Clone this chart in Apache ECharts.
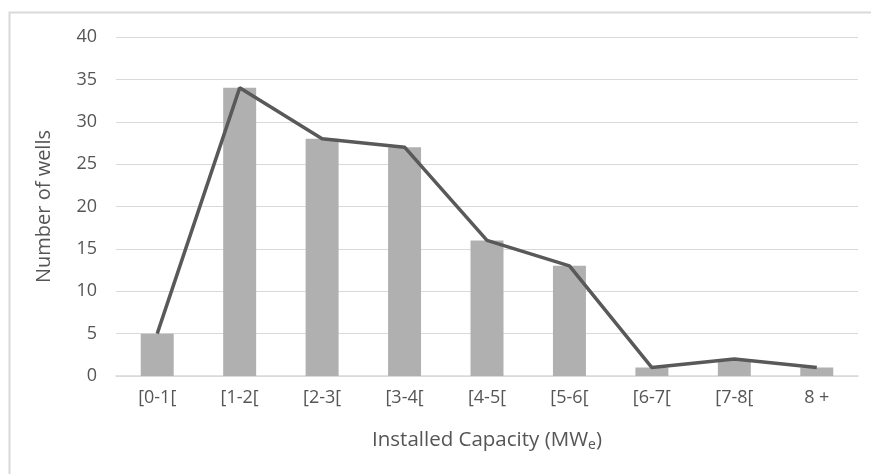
<!DOCTYPE html>
<html><head><meta charset="utf-8">
<script src="https://cdn.jsdelivr.net/npm/echarts@6/dist/echarts.min.js"></script>
<style>html,body{margin:0;padding:0;background:#fff}#c{width:871px;height:474px}</style>
</head><body><div id="c"></div>
<script>
const categories = ['[0-1[', '[1-2[', '[2-3[', '[3-4[', '[4-5[', '[5-6[', '[6-7[', '[7-8[', '8 +'];
const wells = [5, 34, 28, 27, 16, 13, 1, 2, 1];
const yTicks = { min: 0, max: 40, interval: 5 };
const font = '"Open Sans", "Liberation Sans", sans-serif';
const txt = '#555555';
const chart = echarts.init(document.getElementById('c'));
chart.setOption({
  animation: false,
  backgroundColor: '#fff',
  graphic: [{ type: 'rect', shape: { x: 9.5, y: 12.5, width: 900, height: 500 }, style: { fill: 'none', stroke: '#d9d9d9', lineWidth: 2 }, silent: true }],
  grid: { left: 116, right: 13, top: 37, bottom: 98 },
  xAxis: {
    type: 'category', data: categories,
    axisLine: { lineStyle: { color: '#d9d9d9', width: 1.5 } },
    axisTick: { show: false },
    axisLabel: { color: txt, fontSize: 18, fontFamily: font, margin: 13 },
    name: '{a|Installed Capacity (MW}{s|e}{a|)}', nameLocation: 'middle', nameGap: 52,
    nameTextStyle: { rich: { a: { color: txt, fontSize: 20.5, fontFamily: font }, s: { color: txt, fontSize: 14, fontFamily: font, verticalAlign: 'bottom', padding: [10, 0, 0, 0] } } }
  },
  yAxis: {
    type: 'value', min: yTicks.min, max: yTicks.max, interval: yTicks.interval,
    axisLine: { show: false }, axisTick: { show: false },
    splitLine: { lineStyle: { color: '#d9d9d9', width: 1 } },
    axisLabel: { color: txt, fontSize: 18, fontFamily: font, margin: 19 },
    name: 'Number of wells', nameLocation: 'middle', nameGap: 62,
    nameTextStyle: { color: txt, fontSize: 20, fontFamily: font }
  },
  series: [
    { type: 'bar', data: wells, barWidth: '40%', itemStyle: { color: '#b0b0b0' } },
    { type: 'line', data: wells, symbol: 'none', lineStyle: { color: '#595959', width: 3.5 }, z: 3 }
  ]
});
</script></body></html>
